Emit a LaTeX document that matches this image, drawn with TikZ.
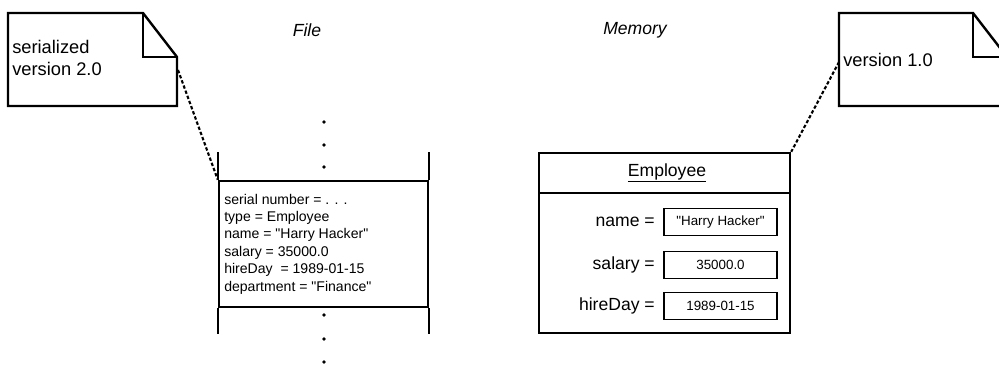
\documentclass[tikz,border=0pt]{standalone}
\usepackage{fontspec}
\setmainfont{Liberation Sans}
\usetikzlibrary{positioning}

\begin{document}
\begin{tikzpicture}[x=0.025cm, y=-0.025cm,
    outline/.style={black, line width=1.7pt},
    tie/.style={black, line width=1.5pt, dash pattern=on 2.4pt off 1.5pt},
    notetext/.style={font=\fontsize{13}{15}\selectfont, inner sep=0pt, align=left, anchor=west},
    title/.style={font=\fontsize{12.5}{14}\selectfont\itshape, inner sep=0pt},
    field/.style={font=\fontsize{12.5}{14}\selectfont, inner sep=0pt, anchor=east},
    valbox/.style={draw, line width=1.3pt, minimum width=2.825cm, minimum height=0.675cm,
      inner sep=0pt, font=\fontsize{9.5}{11}\selectfont},
    dot/.style={circle, fill=black, inner sep=0pt, minimum size=2.8pt}]
    \useasboundingbox (0,0) rectangle (999,365);
    \clip (0,0) rectangle (999,365);
    % headings
    \node[title] (filehead) at (307,30) {File};
    \node[title] (memhead) at (635,30) {Memory};
    % note on the stream side, dog-eared corner
    \draw[outline] (8,13) -- (143,13) -- (177,57) -- (177,106) -- (8,106) -- cycle;
    \draw[outline] (143,13) -- (143,57) -- (177,57);
    \node[notetext] (lnote) at (12,58) {serialized\\version 2.0};
    \coordinate (lpin) at (178,70);
    % record in the stream, open above and below
    \node[draw, outline, minimum width=5.225cm, minimum height=3.15cm, inner sep=0pt]
      (rec) at (323.5,244) {};
    \draw[outline] (rec.north west) -- ++(0,-28);
    \draw[outline] (rec.north east) -- ++(0,-28);
    \draw[outline] (rec.south west) -- ++(0,26);
    \draw[outline] (rec.south east) -- ++(0,26);
    \node[font=\fontsize{10}{12.4}\selectfont, inner sep=0pt, align=left, anchor=west]
      (rectxt) at (224,244) {serial number = . . .\\type = Employee\\
      name = \textquotedbl Harry Hacker\textquotedbl\\
      salary = 35000.0\\hireDay\ \ = 1989-01-15\\
      department = \textquotedbl Finance\textquotedbl};
    \foreach \y in {122,145,167} \node[dot] (up\y) at (324,\y) {};
    \foreach \y in {315,339,362} \node[dot] (dn\y) at (324,\y) {};
    \draw[tie] (lpin) -- (rec.north west);
    % object in memory
    \node[draw, outline, minimum width=6.275cm, minimum height=4.5cm, inner sep=0pt]
      (obj) at (664.5,243) {};
    \draw[outline] (539,193) -- (790,193);
    \node[font=\fontsize{12.5}{14}\selectfont, inner sep=0pt] (cls) at (667,173) {\underline{Employee}};
    \node[field] (fname) at (655,222) {name =};
    \node[valbox] (vname) at (720.5,222) {\textquotedbl Harry Hacker\textquotedbl};
    \node[field] (fsal) at (655,265) {salary =};
    \node[valbox] (vsal) at (720.5,265) {35000.0};
    \node[field] (fday) at (655,306) {hireDay =};
    \node[valbox] (vday) at (720.5,306) {1989-01-15};
    % note on the class side, runs off the right edge
    \draw[outline] (839,13) -- (973,13) -- (1007,57) -- (1007,106) -- (839,106) -- cycle;
    \draw[outline] (973,13) -- (973,57) -- (1007,57);
    \node[notetext] (rnote) at (843,60) {version 1.0};
    \coordinate (rpin) at (839,62);
    \draw[tie] (rpin) -- (obj.north east);
  \end{tikzpicture}
\end{document}
